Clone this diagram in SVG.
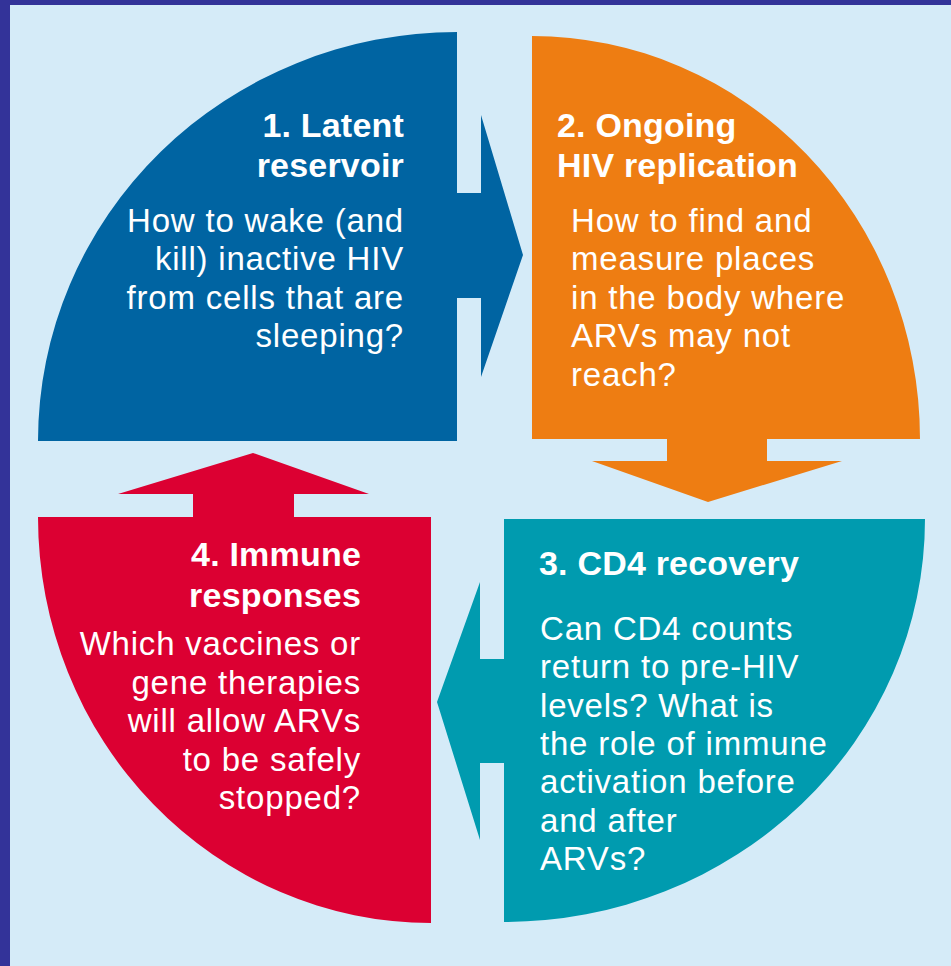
<svg xmlns="http://www.w3.org/2000/svg" width="951" height="966" viewBox="0 0 951 966">
<style>
text{font-family:"Liberation Sans",Arial,Helvetica,sans-serif;fill:#ffffff}
.t{font-size:34px;font-weight:bold;letter-spacing:0.2px}
.b{font-size:33px;letter-spacing:0.8px}
.r{text-anchor:end}
</style>
<rect x="0" y="0" width="951" height="966" fill="#333399"/>
<rect x="10" y="5" width="941" height="961" fill="#d5ebf8"/>
<g id="latent-reservoir">
<path d="M457,32 L457,193 L481,193 L481,115 L523,255 L481,377 L481,298 L457,298 L457,441 L38,441 A419,409 0 0 1 457,32 Z" fill="#0064a2"/>
<text class="t r" x="404" y="137">1. Latent</text>
<text class="t r" x="404" y="177">reservoir</text>
<text class="b r" x="404" y="232">How to wake (and</text>
<text class="b r" x="404" y="270">kill) inactive HIV</text>
<text class="b r" x="404" y="309">from cells that are</text>
<text class="b r" x="404" y="347">sleeping?</text>
</g>
<g id="ongoing-replication">
<path d="M532,36 A388,403 0 0 1 920,439 L767,439 L767,461 L842,461 L708,502 L592,461 L667,461 L667,439 L532,439 Z" fill="#ee7d12"/>
<text class="t" x="557" y="137">2. Ongoing</text>
<text class="t" x="557" y="177">HIV replication</text>
<text class="b" x="571" y="232">How to find and</text>
<text class="b" x="571" y="270">measure places</text>
<text class="b" x="571" y="309">in the body where</text>
<text class="b" x="571" y="347">ARVs may not</text>
<text class="b" x="571" y="386">reach?</text>
</g>
<g id="cd4-recovery">
<path d="M504,519 L925,519 A421,403 0 0 1 504,922 L504,763 L480,763 L480,840 L437,702 L480,582 L480,659 L504,659 Z" fill="#009baf"/>
<text class="t" x="539" y="575">3. CD4 recovery</text>
<text class="b" x="540" y="640">Can CD4 counts</text>
<text class="b" x="540" y="678">return to pre-HIV</text>
<text class="b" x="540" y="717">levels? What is</text>
<text class="b" x="540" y="755">the role of immune</text>
<text class="b" x="540" y="793">activation before</text>
<text class="b" x="540" y="832">and after</text>
<text class="b" x="540" y="870">ARVs?</text>
</g>
<g id="immune-responses">
<path d="M38,517 L193,517 L193,494 L118,494 L253,453 L369,494 L294,494 L294,517 L431,517 L431,923 A393,406 0 0 1 38,517 Z" fill="#dc0032"/>
<text class="t r" x="361" y="566">4. Immune</text>
<text class="t r" x="361" y="607">responses</text>
<text class="b r" x="361" y="655">Which vaccines or</text>
<text class="b r" x="361" y="694">gene therapies</text>
<text class="b r" x="361" y="732">will allow ARVs</text>
<text class="b r" x="361" y="771">to be safely</text>
<text class="b r" x="361" y="809">stopped?</text>
</g>
<g id="connectors"></g>
</svg>
